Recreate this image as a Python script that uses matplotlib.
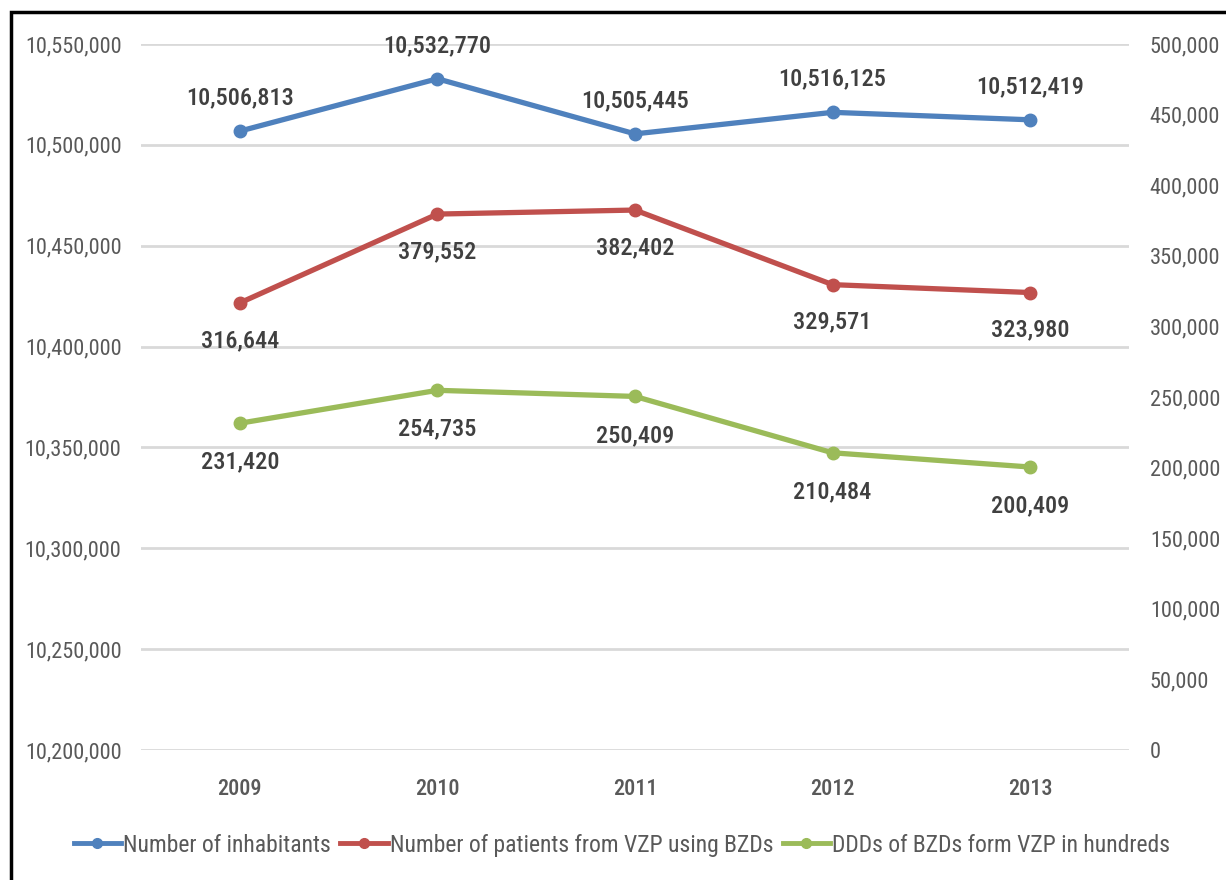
import matplotlib
matplotlib.use("Agg")
import matplotlib.pyplot as plt
from matplotlib.ticker import FuncFormatter, MultipleLocator
from matplotlib.patches import Rectangle

plt.rcParams['font.family'] = ['Roboto Condensed', 'DejaVu Sans']

years = ["2009", "2010", "2011", "2012", "2013"]
inhabitants = [10506813, 10532770, 10505445, 10516125, 10512419]
patients = [316644, 379552, 382402, 329571, 323980]
ddds = [231420, 254735, 250409, 210484, 200409]

names = ["Number of inhabitants",
         "Number of patients from VZP using BZDs",
         "DDDs of BZDs form VZP in hundreds"]
colors = ["#4F81BD", "#C0504D", "#9BBB59"]

W, H = 1226, 880
fig = plt.figure(figsize=(W / 100, H / 100), dpi=100)

# outer frame (only top and left edges fall inside the image)
fig.patches.append(Rectangle((11 / W, -0.05), 1.2, (H - 12) / H + 0.05,
                             transform=fig.transFigure, fill=False,
                             edgecolor="black", linewidth=2.5, zorder=0))

left, right = 141, 1129
top, bottom = 44, 750
ax = fig.add_axes([left / W, 1 - bottom / H, (right - left) / W, (bottom - top) / H])
ax2 = ax.twinx()

x = list(range(len(years)))
ax.set_xlim(-0.5, len(years) - 0.5)
ax.set_ylim(10200000, 10550000)
ax2.set_ylim(0, 500000)
ax.yaxis.set_major_locator(MultipleLocator(50000))
ax2.yaxis.set_major_locator(MultipleLocator(50000))

fmt = FuncFormatter(lambda v, p: f"{int(round(v)):,}")
ax.yaxis.set_major_formatter(fmt)
ax2.yaxis.set_major_formatter(fmt)

ax.set_xticks(x)
ax.set_xticklabels(years)

tick_color = "#595959"
for a in (ax, ax2):
    for s in a.spines.values():
        s.set_visible(False)
    a.tick_params(length=0, labelsize=16, labelcolor=tick_color)
ax.tick_params(axis="y", pad=14)
ax2.tick_params(axis="y", pad=15)
ax.tick_params(axis="x", pad=20)
for lab in ax.get_xticklabels():
    lab.set_fontweight("medium")

ax.grid(axis="y", color="#D9D9D9", linewidth=2)
ax.set_axisbelow(True)

lw, ms = 3.8, 9
l1, = ax.plot(x, inhabitants, color=colors[0], lw=lw, marker="o", ms=ms, label=names[0], zorder=3)
l2, = ax2.plot(x, patients, color=colors[1], lw=lw, marker="o", ms=ms, label=names[1], zorder=3)
l3, = ax2.plot(x, ddds, color=colors[2], lw=lw, marker="o", ms=ms, label=names[2], zorder=3)

lab_kw = dict(ha="center", va="center", fontsize=17.5, fontweight="medium", color="#404040",
              textcoords="offset points")
for xi, v in zip(x, inhabitants):
    ax.annotate(f"{v:,}", (xi, v), xytext=(0, 24), **lab_kw)
for xi, v in zip(x, patients):
    ax2.annotate(f"{v:,}", (xi, v), xytext=(0, -27), **lab_kw)
for xi, v in zip(x, ddds):
    ax2.annotate(f"{v:,}", (xi, v), xytext=(0, -28), **lab_kw)

leg = fig.legend(handles=[l1, l2, l3], loc="center", bbox_to_anchor=(622 / W, 1 - 845 / H),
                 ncol=3, frameon=False, fontsize=17, handlelength=2.0, handletextpad=0.1,
                 columnspacing=0.4, labelcolor=tick_color)
for h in leg.legend_handles:
    h.set_markersize(7)
    h.set_linewidth(3.5)

fig.savefig("out.png", dpi=100)
